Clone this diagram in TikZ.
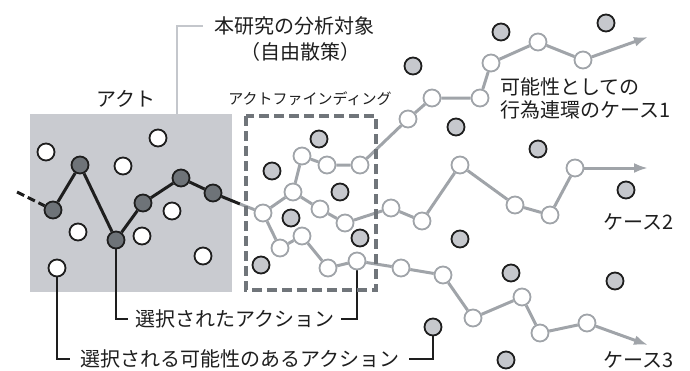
\documentclass[tikz,border=0pt]{standalone}
\usepackage{fontspec}
\setmainfont{Noto Sans CJK JP}
\usetikzlibrary{arrows.meta,backgrounds}
\definecolor{boxgray}{HTML}{C9CBD0}
\definecolor{dashgray}{HTML}{70757A}
\definecolor{pathgray}{HTML}{A0A4A9}
\definecolor{selfill}{HTML}{6E7378}
\definecolor{dotfill}{HTML}{C6C8CD}
\definecolor{ink}{HTML}{1E1E1E}
\definecolor{leadgray}{HTML}{C4C7CC}
\tikzset{
 dot/.style={circle, minimum size=17pt, inner sep=0pt, line width=1.8pt},
 sel/.style={dot, fill=selfill, draw=ink},
 cand/.style={dot, fill=white, draw=ink},
 pnode/.style={dot, fill=white, draw=pathgray},
 other/.style={dot, fill=dotfill, draw=ink},
 blackpath/.style={draw=ink, line width=3pt},
 graypath/.style={draw=pathgray, line width=3pt},
 grayarrow/.style={graypath, -{Latex[length=14pt,width=10pt]}},
 lab/.style={font=\fontsize{20}{23}\selectfont, text=ink, inner sep=0pt},
 smalllab/.style={font=\fontsize{15}{18}\selectfont, text=ink, inner sep=0pt},
 leader/.style={draw=ink, line width=1.1pt},
 lightleader/.style={draw=leadgray, line width=1.6pt},
 dashbox/.style={draw=dashgray, line width=3.5pt, dash pattern=on 10pt off 5pt},
}
\begin{document}
\begin{tikzpicture}[x=1pt,y=-1pt]
\useasboundingbox (0,0) rectangle (690,370);
% selected actions
\node[sel] (d1) at (53,210) {};
\node[sel] (d2) at (80,165) {};
\node[sel] (d3) at (116,240) {};
\node[sel] (d4) at (143,203) {};
\node[sel] (d5) at (181,178) {};
\node[sel] (d6) at (213,193) {};
% candidate actions inside act box
\node[cand] (w1) at (158,138) {};
\node[cand] (w2) at (46,152) {};
\node[cand] (w3) at (123,166) {};
\node[cand] (w4) at (172,211) {};
\node[cand] (w5) at (78,232) {};
\node[cand] (w6) at (142,236) {};
\node[cand] (w7) at (203,256) {};
\node[cand] (w8) at (57,268) {};
% path nodes
\node[pnode] (A) at (263,213) {};
\node[pnode] (B) at (293,192) {};
\node[pnode] (C) at (302,156) {};
\node[pnode] (D) at (327,165) {};
\node[pnode] (E) at (360,165) {};
\node[pnode] (P) at (408,119) {};
\node[pnode] (Q) at (432,98) {};
\node[pnode] (R) at (480,98) {};
\node[pnode] (S) at (491,63) {};
\node[pnode] (T) at (538,42) {};
\node[pnode] (U) at (583,60) {};
\node[pnode] (F) at (320,209) {};
\node[pnode] (G) at (345,223) {};
\node[pnode] (H) at (391,208) {};
\node[pnode] (I) at (422,221) {};
\node[pnode] (V) at (460,165) {};
\node[pnode] (W) at (515,205) {};
\node[pnode] (X) at (550,215) {};
\node[pnode] (Y) at (575,168) {};
\node[pnode] (J) at (280,248) {};
\node[pnode] (K) at (302,236) {};
\node[pnode] (L) at (328,268) {};
\node[pnode] (M) at (357,261) {};
\node[pnode] (N) at (401,268) {};
\node[pnode] (O) at (443,275) {};
\node[pnode] (O2) at (473,318) {};
\node[pnode] (O3) at (522,297) {};
\node[pnode] (O4) at (540,333) {};
\node[pnode] (O5) at (587,323) {};
% other possible actions
\node[other] (g1) at (413,66) {};
\node[other] (g2) at (501,32) {};
\node[other] (g3) at (606,23) {};
\node[other] (g4) at (319,139) {};
\node[other] (g5) at (272,171) {};
\node[other] (g6) at (340,192) {};
\node[other] (g7) at (291,218) {};
\node[other] (g8) at (360,238) {};
\node[other] (g9) at (261,265) {};
\node[other] (g10) at (433,327) {};
\node[other] (g11) at (456,127) {};
\node[other] (g12) at (538,149) {};
\node[other] (g13) at (626,190) {};
\node[other] (g14) at (460,239) {};
\node[other] (g15) at (511,273) {};
\node[other] (g16) at (615,281) {};
\node[other] (g17) at (506,360) {};
% coordinates
\coordinate (ds) at (17,192);
\coordinate (jn) at (240,204);
\coordinate (e1) at (648,37);
\coordinate (e2) at (648,168);
\coordinate (e3) at (648,345);
\coordinate (boxtop) at (177,114);
% labels
\node[lab] (t1) at (294,26) {本研究の分析対象};
\node[lab] (t2) at (300,52) {（自由散策）};
\node[lab] (tact) at (126,99) {アクト};
\node[smalllab] (tfind) at (310,99) {アクトファインディング};
\node[lab, anchor=west, align=left] (tc1) at (500,98.5) {可能性としての\\行為連環のケース1};
\node[lab, anchor=west] (tc2) at (603,222) {ケース2};
\node[lab, anchor=west] (tc3) at (603,360) {ケース3};
\node[lab, anchor=west, inner xsep=7pt] (ls) at (128,319) {選択されたアクション};
\node[lab, anchor=west, inner xsep=10pt] (lp) at (70,359) {選択される可能性のあるアクション};
\begin{scope}[on background layer]
 \fill[boxgray] (30,114) rectangle (232,292);
 \draw[ink, line width=3pt, dash pattern=on 8pt off 4pt] (ds) -- (d1);
 \draw[blackpath] (d1) -- (d2) -- (d3) -- (d4) -- (d5) -- (d6) -- (jn);
 \draw[graypath] (jn) -- (A);
 \draw[graypath] (A) -- (B) -- (C) -- (D) -- (E) -- (P) -- (Q) -- (R) -- (S) -- (T) -- (U);
 \draw[grayarrow] (U) -- (e1);
 \draw[graypath] (B) -- (F) -- (G) -- (H) -- (I) -- (V) -- (W) -- (X) -- (Y);
 \draw[grayarrow] (Y) -- (e2);
 \draw[graypath] (A) -- (J) -- (K) -- (L) -- (M) -- (N) -- (O) -- (O2) -- (O3) -- (O4) -- (O5);
 \draw[grayarrow] (O5) -- (e3);
 \draw[lightleader] ([xshift=-11pt]t1.west) -| (boxtop);
 \draw[leader] (d3) |- (ls.west);
 \draw[leader] (ls.east) -| (M);
 \draw[leader] (w8) |- (lp.west);
 \draw[leader] (lp.east) -| (g10);
\end{scope}
\draw[dashbox] (246,116) rectangle (376,290);
\end{tikzpicture}
\end{document}
